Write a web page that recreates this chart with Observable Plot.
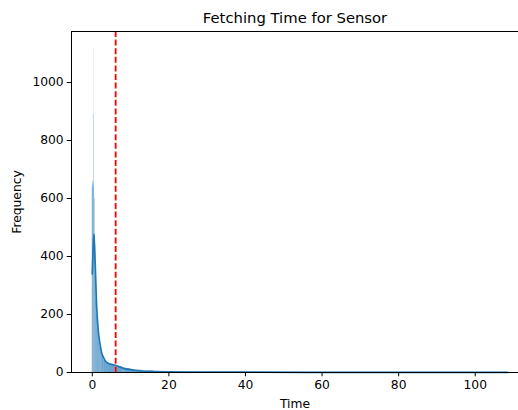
<!DOCTYPE html>
<html>
<head>
<meta charset="utf-8">
<script src="https://cdn.jsdelivr.net/npm/d3@7"></script>
<script src="https://cdn.jsdelivr.net/npm/@observablehq/plot@0.6"></script>
<style>
  html, body { margin: 0; padding: 0; background: #fff; }
  #chart { width: 518px; height: 410px; overflow: hidden; }
</style>
</head>
<body>
<div id="chart"></div>
<script>
// Histogram bins (left/right edges) and displayed frequencies
const binLeft  = [0, 0.1, 0.2, 0.32, 0.4, 0.43, 0.5, 0.6, 0.7, 0.8, 1.0, 1.2, 1.4, 1.6, 1.8, 2.0, 2.3, 2.6, 3.0, 3.5, 4, 5, 6, 8, 10, 13, 16, 20, 25, 30, 40, 60, 80];
const binRight = [0.1, 0.2, 0.32, 0.4, 0.43, 0.5, 0.6, 0.7, 0.8, 1.0, 1.2, 1.4, 1.6, 1.8, 2.0, 2.3, 2.6, 3.0, 3.5, 4, 5, 6, 8, 10, 13, 16, 20, 25, 30, 40, 60, 80, 108.5];
const binCount = [640, 660, 650, 890, 1120, 660, 640, 600, 470, 330, 250, 195, 150, 125, 105, 88, 70, 55, 44, 36, 30, 26, 19, 12, 8, 5, 3, 2, 1.5, 1, 0.7, 0.5, 0.4];

// KDE curve points (time, scaled frequency)
const kdeX = [0, 0.2, 0.42, 0.7, 1.1, 1.55, 2.0, 2.4, 3.0, 3.7, 5, 6.2, 8, 11.6, 15, 20, 30, 40, 60, 80, 100, 108.5];
const kdeY = [340, 420, 478, 400, 238, 145, 100, 70, 50, 35, 28, 24, 15, 7, 4, 2.5, 1.5, 1, 0.7, 0.5, 0.3, 0.2];

// Mean marker
const meanTime = [6.1];

const xTicks = [0, 20, 40, 60, 80, 100];
const yTicks = [0, 200, 400, 600, 800, 1000];

const bins = binLeft.map((l, i) => ({x1: l, x2: binRight[i], y: binCount[i]}));
const kde = kdeX.map((x, i) => ({x, y: kdeY[i]}));

const xDomain = [-5.43, 111.3];
const yDomain = [0, 1176];

const chart = Plot.plot({
  width: 518,
  height: 410,
  marginLeft: 71,
  marginRight: 0,
  marginTop: 31,
  marginBottom: 38,
  style: {fontFamily: "DejaVu Sans", fontSize: "12.3px", color: "black", background: "white"},
  x: {domain: xDomain},
  y: {domain: yDomain},
  marks: [
    Plot.rectY(bins, {x1: "x1", x2: "x2", y: "y", fill: "#1f77b4", fillOpacity: 0.68}),
    Plot.line(kde, {x: "x", y: "y", stroke: "#1f77b4", strokeWidth: 1.7, curve: "monotone-x"}),
    Plot.ruleX(meanTime, {stroke: "red", strokeWidth: 1.8, strokeDasharray: "6,2.6"}),
    Plot.ruleX([xDomain[0]], {stroke: "black", strokeWidth: 1}),
    Plot.ruleY([yDomain[0]], {stroke: "black", strokeWidth: 1}),
    Plot.ruleY([yDomain[1]], {stroke: "black", strokeWidth: 1}),
    Plot.axisX({ticks: xTicks, tickSize: 4.3, tickPadding: 3.5, fontSize: 12.3, label: "Time", labelAnchor: "center", labelOffset: 35, labelArrow: "none"}),
    Plot.axisY({ticks: yTicks, tickFormat: d3.format("d"), tickSize: 4.3, tickPadding: 3.5, fontSize: 12.3, label: "Frequency", labelAnchor: "center", labelOffset: 59, labelArrow: "none"}),
    Plot.text(["Fetching Time for Sensor"], {frameAnchor: "top", dy: -19, fontSize: 14.8, fill: "black"})
  ]
});
document.getElementById("chart").appendChild(chart);
</script>
</body>
</html>
